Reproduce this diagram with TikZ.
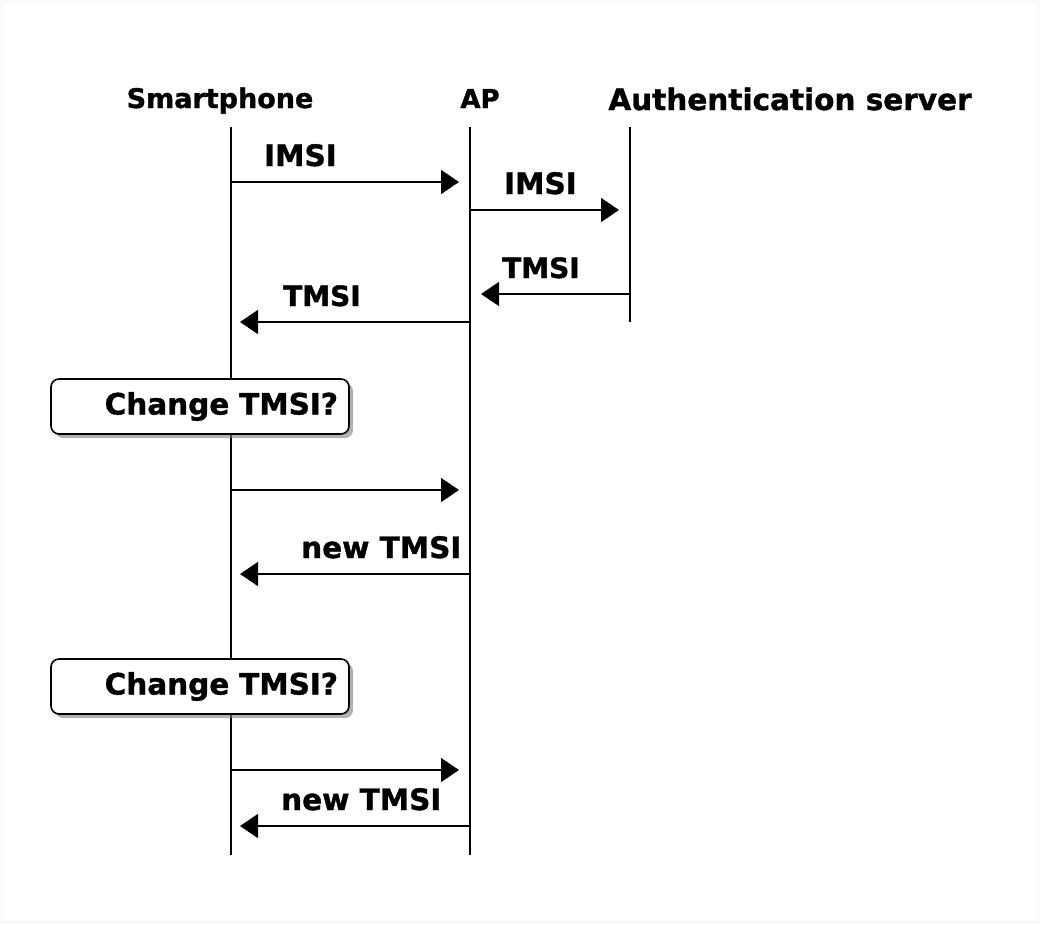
\documentclass[tikz,border=0pt]{standalone}
\usepackage{fontspec}
\setmainfont{DejaVu Sans}[BoldFeatures={FakeBold=1.2}]
\usetikzlibrary{arrows.meta,shadows,positioning}

\tikzset{
  life/.style={line width=1.6pt},
  msg/.style={line width=1.6pt,shorten >=11pt,-{Triangle[length=18pt,width=24pt]}},
  lbl/.style={anchor=base west,inner sep=0pt,font=\fontsize{#1}{34}\selectfont\bfseries},
  lbl/.default=29.5,
  hdr/.style={anchor=base,inner sep=0pt,font=\fontsize{#1}{32}\selectfont\bfseries},
  notebox/.style={draw,line width=1.6pt,rounded corners=8pt,fill=white,
    minimum width=298pt,minimum height=55pt,text width=276pt,align=right,inner xsep=11pt,
    font=\fontsize{29.5}{34}\selectfont\bfseries,
    drop shadow={shadow xshift=4pt,shadow yshift=-4pt,fill=black!50,opacity=.6}}
}

\begin{document}
\begin{tikzpicture}[x=1pt,y=-1pt]
\fill[black!2] (0,0) rectangle (1040,924);
\fill[white] (4,4) rectangle (1036,920);
\useasboundingbox (0,0) rectangle (1040,924);

% participants
\node[hdr=27] (sp) at (220,108) {Smartphone};
\node[hdr=26] (ap) at (480,108) {AP};
\node[hdr=29.5] (as) at (790,110) {Authentication server};

% lifelines
\coordinate (sp0) at (231,127); \coordinate (sp9) at (231,855);
\coordinate (ap0) at (470,127); \coordinate (ap9) at (470,855);
\coordinate (as0) at (630,127); \coordinate (as9) at (630,322);
\draw[life] (sp0) -- (sp9);
\draw[life] (ap0) -- (ap9);
\draw[life] (as0) -- (as9);

% points on the lifelines
\foreach \y [count=\n] in {182,210,294,322,490,574,770,826}{
  \coordinate (S\n) at (231,\y);
  \coordinate (A\n) at (470,\y);
  \coordinate (T\n) at (630,\y);
}

% messages
\draw[msg] (S1) -- (A1);
\node[lbl] (m1) at (264,166) {IMSI};
\draw[msg] (A2) -- (T2);
\node[lbl] (m2) at (504,194) {IMSI};
\draw[msg] (T3) -- (A3);
\node[lbl=28] (m3) at (502,278) {TMSI};
\draw[msg,shorten >=9pt] (A4) -- (S4);
\node[lbl=28] (m4) at (283,306) {TMSI};

\node[notebox] (c1) at (200,406.5) {Change TMSI?};
\draw[msg] (S5) -- (A5);
\draw[msg,shorten >=9pt] (A6) -- (S6);
\node[lbl] (m6) at (301,558) {new TMSI};

\node[notebox] (c2) at (200,686.5) {Change TMSI?};
\draw[msg] (S7) -- (A7);
\draw[msg,shorten >=9pt] (A8) -- (S8);
\node[lbl] (m8) at (281,810) {new TMSI};
\end{tikzpicture}
\end{document}
